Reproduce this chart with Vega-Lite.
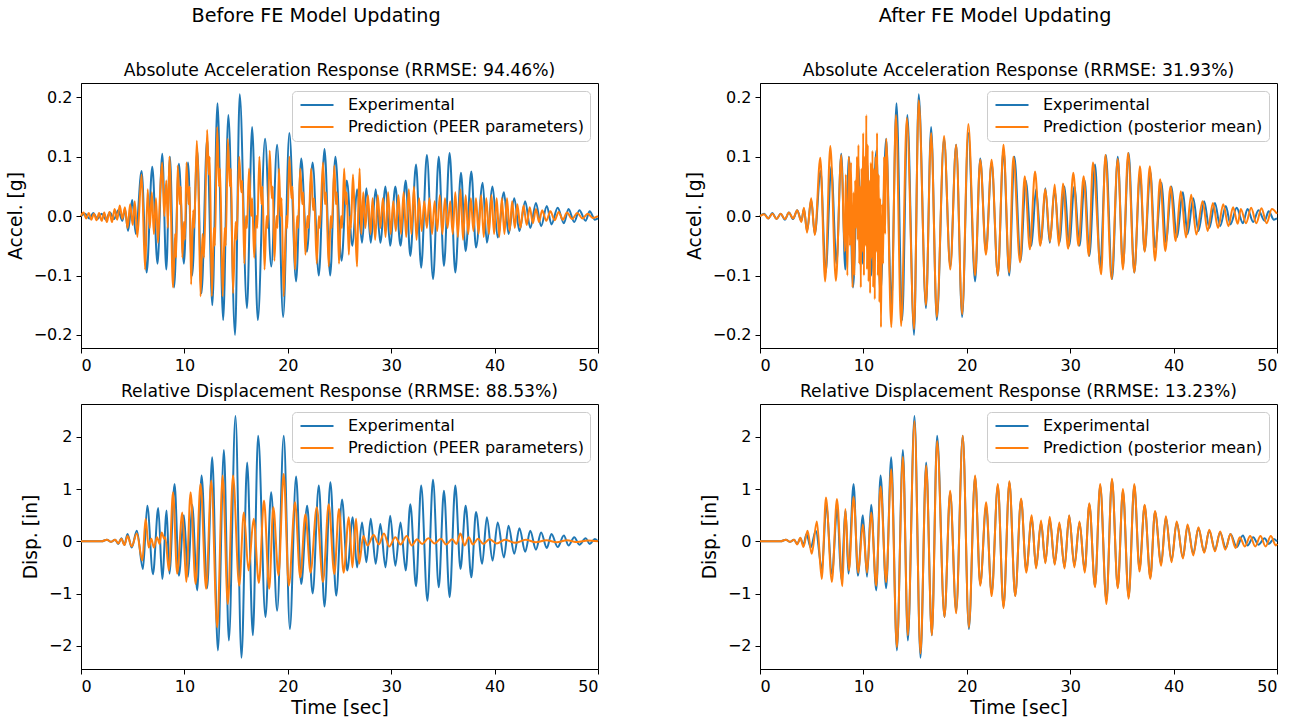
{
"$schema":"https://vega.github.io/schema/vega-lite/v6.json",
"background":"white",
"padding":{"left":5,"top":7,"right":0,"bottom":0},
"config":{
"font":"DejaVu Sans",
"view":{"stroke":"black","strokeWidth":1},
"axis":{"domainColor":"black","tickColor":"black","labelColor":"black","titleColor":"black","labelFontSize":16,"titleFontSize":18.7,"titleFontWeight":"normal","grid":false,"tickSize":5,"labelPadding":4,"labelFont":"DejaVu Sans","titleFont":"DejaVu Sans"},
"title":{"font":"DejaVu Sans","fontWeight":"normal","color":"black"},
"legend":{"orient":"top-right","offset":8,"symbolType":"M-1,0H5","symbolSize":121,"symbolStrokeWidth":2,"labelOffset":34,"labelFontSize":16,"labelFont":"DejaVu Sans","labelColor":"black","padding":6,"rowPadding":6,"fillColor":"rgba(255,255,255,0.8)","strokeColor":"#cccccc","cornerRadius":4,"labelLimit":400},
"line":{"strokeWidth":2,"interpolate":"monotone"}
},
"datasets":{
"accExp":[{"t":0,"v":0},{"t":0.4,"v":0.004},{"t":0.8,"v":-0.004},{"t":1.2,"v":0.005},{"t":1.6,"v":-0.005},{"t":2.0,"v":0.004},{"t":2.4,"v":-0.006},{"t":2.8,"v":0.006},{"t":3.2,"v":-0.005},{"t":3.6,"v":0.01},{"t":4.0,"v":-0.008},{"t":4.25,"v":0.012},{"t":4.55,"v":-0.025},{"t":4.95,"v":0.027},{"t":5.3,"v":-0.03},{"t":5.86,"v":0.076},{"t":6.35,"v":-0.095},{"t":6.89,"v":0.083},{"t":7.4,"v":-0.08},{"t":7.86,"v":0.105},{"t":8.25,"v":-0.09},{"t":8.6,"v":0.1},{"t":9.0,"v":-0.12},{"t":9.47,"v":0.088},{"t":9.95,"v":-0.08},{"t":10.35,"v":0.09},{"t":10.75,"v":-0.1},{"t":11.25,"v":0.11},{"t":11.65,"v":-0.13},{"t":12.2,"v":0.13},{"t":12.7,"v":-0.15},{"t":13.2,"v":0.19},{"t":13.75,"v":-0.175},{"t":14.25,"v":0.17},{"t":14.9,"v":-0.2},{"t":15.35,"v":0.205},{"t":16.05,"v":-0.155},{"t":16.55,"v":0.15},{"t":17.1,"v":-0.175},{"t":17.8,"v":0.13},{"t":18.4,"v":-0.085},{"t":18.97,"v":0.12},{"t":19.55,"v":-0.17},{"t":20.15,"v":0.14},{"t":20.8,"v":-0.11},{"t":21.3,"v":0.097},{"t":21.85,"v":-0.06},{"t":22.4,"v":0.09},{"t":23.0,"v":-0.1},{"t":23.55,"v":0.113},{"t":24.1,"v":-0.1},{"t":24.6,"v":0.1},{"t":25.2,"v":-0.075},{"t":25.7,"v":0.06},{"t":26.25,"v":-0.05},{"t":26.7,"v":0.045},{"t":27.18,"v":-0.045},{"t":27.6,"v":0.047},{"t":28.02,"v":-0.045},{"t":28.5,"v":0.045},{"t":28.95,"v":-0.045},{"t":29.45,"v":0.05},{"t":29.9,"v":-0.05},{"t":30.4,"v":0.05},{"t":30.9,"v":-0.05},{"t":31.4,"v":0.06},{"t":31.85,"v":-0.067},{"t":32.4,"v":0.087},{"t":32.9,"v":-0.087},{"t":33.45,"v":0.103},{"t":34.05,"v":-0.106},{"t":34.6,"v":0.1},{"t":35.1,"v":-0.084},{"t":35.65,"v":0.106},{"t":36.2,"v":-0.095},{"t":36.75,"v":0.073},{"t":37.2,"v":-0.059},{"t":37.75,"v":0.075},{"t":38.2,"v":-0.053},{"t":38.85,"v":0.056},{"t":39.25,"v":-0.045},{"t":39.8,"v":0.05},{"t":40.3,"v":-0.036},{"t":40.9,"v":0.04},{"t":41.35,"v":-0.03},{"t":41.9,"v":0.03},{"t":42.4,"v":-0.025},{"t":42.96,"v":0.025},{"t":43.45,"v":-0.02},{"t":44.0,"v":0.022},{"t":44.5,"v":-0.017},{"t":45.05,"v":0.017},{"t":45.5,"v":-0.014},{"t":46.1,"v":0.014},{"t":46.7,"v":-0.012},{"t":47.15,"v":0.012},{"t":47.7,"v":-0.01},{"t":48.2,"v":0.01},{"t":48.8,"v":-0.008},{"t":49.2,"v":0.008},{"t":49.7,"v":-0.006},{"t":50,"v":-0.004}],
"accPeer":[{"t":0,"v":0},{"t":0.25,"v":0.006},{"t":0.5,"v":-0.004},{"t":0.75,"v":0.005},{"t":1.0,"v":-0.006},{"t":1.25,"v":0.004},{"t":1.5,"v":-0.007},{"t":1.75,"v":0.005},{"t":2.0,"v":-0.008},{"t":2.25,"v":0.006},{"t":2.5,"v":-0.01},{"t":2.75,"v":0.007},{"t":3.0,"v":-0.01},{"t":3.25,"v":0.012},{"t":3.5,"v":-0.006},{"t":3.75,"v":0.018},{"t":4.0,"v":-0.005},{"t":4.25,"v":0.015},{"t":4.5,"v":-0.02},{"t":4.75,"v":0.02},{"t":5.0,"v":-0.015},{"t":5.2,"v":0.025},{"t":5.45,"v":-0.035},{"t":5.86,"v":0.07},{"t":6.2,"v":-0.09},{"t":6.45,"v":0.045},{"t":6.65,"v":-0.02},{"t":6.85,"v":0.04},{"t":7.05,"v":-0.03},{"t":7.25,"v":0.03},{"t":7.45,"v":-0.045},{"t":7.65,"v":0.04},{"t":7.85,"v":0.09},{"t":8.05,"v":0.0},{"t":8.25,"v":0.06},{"t":8.4,"v":-0.02},{"t":8.55,"v":0.1},{"t":8.9,"v":-0.12},{"t":9.1,"v":-0.03},{"t":9.2,"v":-0.07},{"t":9.35,"v":0.085},{"t":9.55,"v":0.02},{"t":9.65,"v":0.05},{"t":9.8,"v":-0.07},{"t":9.95,"v":-0.01},{"t":10.05,"v":-0.04},{"t":10.2,"v":0.09},{"t":10.4,"v":0.02},{"t":10.5,"v":0.05},{"t":10.65,"v":-0.115},{"t":10.85,"v":0.01},{"t":10.95,"v":-0.02},{"t":11.2,"v":0.127},{"t":11.35,"v":0.06},{"t":11.56,"v":-0.135},{"t":11.75,"v":-0.03},{"t":11.9,"v":-0.07},{"t":12.2,"v":0.145},{"t":12.35,"v":0.07},{"t":12.45,"v":0.1},{"t":12.65,"v":-0.135},{"t":12.85,"v":-0.02},{"t":12.95,"v":-0.05},{"t":13.17,"v":0.15},{"t":13.35,"v":0.05},{"t":13.45,"v":0.08},{"t":13.7,"v":-0.135},{"t":13.9,"v":-0.02},{"t":14.0,"v":-0.05},{"t":14.2,"v":0.13},{"t":14.4,"v":0.05},{"t":14.5,"v":0.08},{"t":14.7,"v":-0.13},{"t":14.95,"v":-0.01},{"t":15.05,"v":-0.04},{"t":15.3,"v":0.1},{"t":15.5,"v":0.04},{"t":15.6,"v":0.06},{"t":15.8,"v":-0.08},{"t":15.95,"v":0.0},{"t":16.05,"v":-0.02},{"t":16.25,"v":0.08},{"t":16.45,"v":0.0},{"t":16.55,"v":0.03},{"t":16.75,"v":-0.07},{"t":16.95,"v":0.0},{"t":17.05,"v":-0.02},{"t":17.25,"v":0.1},{"t":17.45,"v":0.02},{"t":17.55,"v":0.05},{"t":17.75,"v":-0.09},{"t":17.95,"v":0.0},{"t":18.05,"v":-0.02},{"t":18.25,"v":0.11},{"t":18.45,"v":0.03},{"t":18.55,"v":0.05},{"t":18.7,"v":-0.075},{"t":18.9,"v":0.0},{"t":19.0,"v":-0.02},{"t":19.15,"v":0.08},{"t":19.3,"v":0.0},{"t":19.4,"v":0.03},{"t":19.6,"v":-0.135},{"t":19.85,"v":0.0},{"t":19.95,"v":-0.02},{"t":20.15,"v":0.1},{"t":20.35,"v":0.03},{"t":20.45,"v":0.05},{"t":20.7,"v":-0.09},{"t":20.9,"v":0.0},{"t":21.0,"v":-0.02},{"t":21.2,"v":0.08},{"t":21.4,"v":0.02},{"t":21.5,"v":0.04},{"t":21.7,"v":-0.065},{"t":21.9,"v":0.0},{"t":22.0,"v":-0.02},{"t":22.25,"v":0.08},{"t":22.45,"v":0.01},{"t":22.55,"v":0.03},{"t":22.8,"v":-0.08},{"t":23.0,"v":0.0},{"t":23.1,"v":-0.02},{"t":23.4,"v":0.09},{"t":23.6,"v":0.02},{"t":23.7,"v":0.04},{"t":23.96,"v":-0.085},{"t":24.15,"v":0.0},{"t":24.25,"v":-0.02},{"t":24.5,"v":0.085},{"t":24.65,"v":0.02},{"t":24.75,"v":0.04},{"t":24.95,"v":-0.08},{"t":25.15,"v":0.0},{"t":25.25,"v":-0.02},{"t":25.45,"v":0.08},{"t":25.6,"v":0.02},{"t":25.7,"v":0.04},{"t":25.9,"v":-0.065},{"t":26.05,"v":0.0},{"t":26.1,"v":-0.02},{"t":26.3,"v":0.07},{"t":26.45,"v":0.01},{"t":26.55,"v":-0.03},{"t":26.7,"v":-0.085},{"t":26.8,"v":0.0},{"t":26.95,"v":0.08},{"t":27.1,"v":-0.03},{"t":27.3,"v":0.04},{"t":27.5,"v":-0.02},{"t":27.75,"v":0.035},{"t":28.0,"v":-0.03},{"t":28.2,"v":0.03},{"t":28.45,"v":-0.04},{"t":28.7,"v":0.035},{"t":28.95,"v":-0.02},{"t":29.2,"v":0.03},{"t":29.45,"v":-0.035},{"t":29.7,"v":0.04},{"t":29.95,"v":-0.03},{"t":30.2,"v":0.025},{"t":30.45,"v":-0.025},{"t":30.7,"v":0.035},{"t":30.95,"v":-0.03},{"t":31.2,"v":0.04},{"t":31.45,"v":-0.035},{"t":31.7,"v":0.045},{"t":31.95,"v":-0.03},{"t":32.2,"v":0.05},{"t":32.45,"v":-0.04},{"t":32.7,"v":0.03},{"t":32.95,"v":-0.025},{"t":33.2,"v":0.025},{"t":33.45,"v":-0.02},{"t":33.7,"v":0.03},{"t":33.95,"v":-0.03},{"t":34.2,"v":0.025},{"t":34.45,"v":-0.025},{"t":34.7,"v":0.035},{"t":34.95,"v":-0.03},{"t":35.2,"v":0.03},{"t":35.45,"v":-0.02},{"t":35.7,"v":0.025},{"t":35.95,"v":-0.03},{"t":36.2,"v":0.04},{"t":36.45,"v":-0.035},{"t":36.7,"v":0.045},{"t":36.95,"v":-0.04},{"t":37.2,"v":0.035},{"t":37.45,"v":-0.03},{"t":37.7,"v":0.03},{"t":37.95,"v":-0.025},{"t":38.2,"v":0.03},{"t":38.45,"v":-0.03},{"t":38.7,"v":0.035},{"t":38.95,"v":-0.035},{"t":39.2,"v":0.03},{"t":39.45,"v":-0.03},{"t":39.7,"v":0.035},{"t":39.95,"v":-0.03},{"t":40.2,"v":0.03},{"t":40.45,"v":-0.035},{"t":40.7,"v":0.03},{"t":40.95,"v":-0.03},{"t":41.2,"v":0.03},{"t":41.45,"v":-0.025},{"t":41.7,"v":0.025},{"t":41.95,"v":-0.02},{"t":42.2,"v":0.02},{"t":42.5,"v":-0.02},{"t":42.8,"v":0.018},{"t":43.1,"v":-0.015},{"t":43.4,"v":0.015},{"t":43.7,"v":-0.012},{"t":44.0,"v":0.012},{"t":44.3,"v":-0.01},{"t":44.6,"v":0.01},{"t":45,"v":-0.008},{"t":45.4,"v":0.008},{"t":45.8,"v":-0.007},{"t":46.2,"v":0.007},{"t":46.6,"v":-0.006},{"t":47,"v":0.006},{"t":47.5,"v":-0.005},{"t":48,"v":0.005},{"t":48.5,"v":-0.004},{"t":49,"v":0.004},{"t":49.5,"v":-0.003},{"t":50,"v":0}],
"accPost":[{"t":0,"v":0},{"t":0.4,"v":0.003},{"t":0.8,"v":-0.004},{"t":1.2,"v":0.004},{"t":1.6,"v":-0.005},{"t":2.0,"v":0.004},{"t":2.4,"v":-0.005},{"t":2.8,"v":0.006},{"t":3.2,"v":-0.004},{"t":3.6,"v":0.01},{"t":4.0,"v":-0.01},{"t":4.25,"v":0.014},{"t":4.55,"v":-0.028},{"t":4.95,"v":0.03},{"t":5.3,"v":-0.032},{"t":5.83,"v":0.098},{"t":6.3,"v":-0.11},{"t":6.8,"v":0.118},{"t":7.34,"v":-0.109},{"t":7.86,"v":0.103},{"t":8.2,"v":-0.06},{"t":8.3,"v":0.07},{"t":8.45,"v":-0.1},{"t":8.6,"v":0.1},{"t":8.7,"v":-0.05},{"t":8.8,"v":0.09},{"t":8.95,"v":-0.12},{"t":9.05,"v":0.04},{"t":9.12,"v":-0.1},{"t":9.2,"v":0.06},{"t":9.3,"v":-0.02},{"t":9.38,"v":0.1},{"t":9.45,"v":-0.04},{"t":9.52,"v":0.12},{"t":9.6,"v":-0.08},{"t":9.68,"v":0.05},{"t":9.75,"v":-0.12},{"t":9.82,"v":0.08},{"t":9.9,"v":-0.06},{"t":9.98,"v":0.14},{"t":10.05,"v":-0.1},{"t":10.12,"v":0.1},{"t":10.2,"v":-0.05},{"t":10.28,"v":0.17},{"t":10.35,"v":-0.09},{"t":10.42,"v":0.12},{"t":10.5,"v":-0.11},{"t":10.58,"v":0.06},{"t":10.65,"v":-0.13},{"t":10.72,"v":0.09},{"t":10.8,"v":-0.07},{"t":10.88,"v":0.11},{"t":10.95,"v":-0.12},{"t":11.02,"v":0.08},{"t":11.1,"v":-0.14},{"t":11.18,"v":0.1},{"t":11.25,"v":-0.06},{"t":11.32,"v":0.14},{"t":11.4,"v":-0.1},{"t":11.48,"v":0.07},{"t":11.55,"v":-0.145},{"t":11.62,"v":0.03},{"t":11.7,"v":-0.187},{"t":11.8,"v":0.02},{"t":11.9,"v":-0.08},{"t":12.0,"v":0.1},{"t":12.1,"v":-0.03},{"t":12.2,"v":0.13},{"t":12.7,"v":-0.187},{"t":13.15,"v":0.17},{"t":13.65,"v":-0.185},{"t":14.2,"v":0.165},{"t":14.9,"v":-0.19},{"t":15.35,"v":0.195},{"t":16.05,"v":-0.15},{"t":16.55,"v":0.14},{"t":17.1,"v":-0.17},{"t":17.8,"v":0.135},{"t":18.4,"v":-0.09},{"t":18.97,"v":0.12},{"t":19.55,"v":-0.165},{"t":20.15,"v":0.155},{"t":20.8,"v":-0.1},{"t":21.3,"v":0.095},{"t":21.85,"v":-0.065},{"t":22.4,"v":0.095},{"t":23.0,"v":-0.1},{"t":23.55,"v":0.12},{"t":24.1,"v":-0.095},{"t":24.5,"v":0.1},{"t":25.15,"v":-0.078},{"t":25.6,"v":0.067},{"t":26.1,"v":-0.056},{"t":26.6,"v":0.075},{"t":27.1,"v":-0.05},{"t":27.6,"v":0.045},{"t":28.05,"v":-0.043},{"t":28.5,"v":0.053},{"t":28.9,"v":-0.05},{"t":29.3,"v":0.055},{"t":29.8,"v":-0.055},{"t":30.3,"v":0.073},{"t":30.8,"v":-0.05},{"t":31.3,"v":0.067},{"t":31.8,"v":-0.067},{"t":32.2,"v":0.09},{"t":33.0,"v":-0.098},{"t":33.4,"v":0.103},{"t":34.0,"v":-0.106},{"t":34.6,"v":0.096},{"t":35.1,"v":-0.09},{"t":35.6,"v":0.106},{"t":36.2,"v":-0.095},{"t":36.75,"v":0.084},{"t":37.2,"v":-0.06},{"t":37.7,"v":0.084},{"t":38.2,"v":-0.075},{"t":38.7,"v":0.062},{"t":39.2,"v":-0.059},{"t":39.7,"v":0.05},{"t":40.2,"v":-0.042},{"t":40.7,"v":0.042},{"t":41.2,"v":-0.036},{"t":41.7,"v":0.036},{"t":42.2,"v":-0.031},{"t":42.8,"v":0.025},{"t":43.3,"v":-0.025},{"t":43.8,"v":0.022},{"t":44.3,"v":-0.02},{"t":44.8,"v":0.02},{"t":45.3,"v":-0.017},{"t":45.75,"v":0.015},{"t":46.2,"v":-0.013},{"t":46.5,"v":0.012},{"t":47.0,"v":-0.012},{"t":47.5,"v":0.014},{"t":48.0,"v":-0.012},{"t":48.5,"v":0.013},{"t":49.0,"v":-0.012},{"t":49.5,"v":0.012},{"t":50,"v":0.004}],
"dispExp":[{"t":0,"v":0},{"t":2.0,"v":0},{"t":2.5,"v":0.03},{"t":2.9,"v":-0.01},{"t":3.3,"v":0.03},{"t":3.6,"v":-0.05},{"t":3.9,"v":0.06},{"t":4.2,"v":-0.07},{"t":4.5,"v":0.14},{"t":4.9,"v":-0.12},{"t":5.4,"v":0.2},{"t":5.99,"v":-0.53},{"t":6.41,"v":0.68},{"t":6.96,"v":-0.63},{"t":7.47,"v":0.64},{"t":7.86,"v":-0.72},{"t":8.28,"v":0.59},{"t":8.55,"v":-0.62},{"t":9.05,"v":1.1},{"t":9.47,"v":-0.66},{"t":9.95,"v":0.5},{"t":10.35,"v":-0.68},{"t":10.75,"v":0.7},{"t":11.24,"v":-0.94},{"t":11.66,"v":1.26},{"t":12.2,"v":-0.9},{"t":12.69,"v":1.61},{"t":13.24,"v":-2.09},{"t":13.82,"v":1.75},{"t":14.3,"v":-1.9},{"t":14.94,"v":2.4},{"t":15.52,"v":-2.23},{"t":16.07,"v":1.51},{"t":16.62,"v":-1.8},{"t":17.13,"v":2.02},{"t":17.84,"v":-1.45},{"t":18.39,"v":0.94},{"t":18.97,"v":-1.33},{"t":19.61,"v":2.02},{"t":20.2,"v":-1.68},{"t":20.8,"v":1.24},{"t":21.3,"v":-0.82},{"t":21.87,"v":0.68},{"t":22.4,"v":-1.0},{"t":23.0,"v":1.07},{"t":23.55,"v":-1.25},{"t":24.12,"v":1.13},{"t":24.68,"v":-1.04},{"t":25.25,"v":0.8},{"t":25.75,"v":-0.56},{"t":26.28,"v":0.46},{"t":26.7,"v":-0.5},{"t":27.18,"v":0.36},{"t":27.6,"v":-0.4},{"t":28.02,"v":0.43},{"t":28.5,"v":-0.43},{"t":28.95,"v":0.33},{"t":29.45,"v":-0.5},{"t":29.9,"v":0.49},{"t":30.4,"v":-0.47},{"t":30.9,"v":0.36},{"t":31.4,"v":-0.56},{"t":31.85,"v":0.71},{"t":32.4,"v":-0.86},{"t":32.9,"v":1.07},{"t":33.5,"v":-1.14},{"t":34.04,"v":1.18},{"t":34.6,"v":-0.88},{"t":35.1,"v":0.97},{"t":35.65,"v":-1.07},{"t":36.2,"v":1.07},{"t":36.7,"v":-0.53},{"t":37.2,"v":0.68},{"t":37.75,"v":-0.69},{"t":38.2,"v":0.56},{"t":38.8,"v":-0.43},{"t":39.25,"v":0.46},{"t":39.8,"v":-0.37},{"t":40.3,"v":0.36},{"t":40.9,"v":-0.31},{"t":41.35,"v":0.3},{"t":41.9,"v":-0.24},{"t":42.4,"v":0.25},{"t":42.96,"v":-0.2},{"t":43.45,"v":0.2},{"t":44.0,"v":-0.16},{"t":44.5,"v":0.17},{"t":45.05,"v":-0.13},{"t":45.5,"v":0.14},{"t":46.1,"v":-0.11},{"t":46.7,"v":0.11},{"t":47.15,"v":-0.08},{"t":47.7,"v":0.08},{"t":48.2,"v":-0.065},{"t":48.8,"v":0.06},{"t":49.2,"v":-0.05},{"t":49.7,"v":0.045},{"t":50,"v":0}],
"dispPeer":[{"t":0,"v":0},{"t":2.0,"v":0},{"t":2.5,"v":0.03},{"t":2.9,"v":-0.01},{"t":3.3,"v":0.03},{"t":3.6,"v":-0.04},{"t":3.9,"v":0.05},{"t":4.2,"v":-0.07},{"t":4.5,"v":0.1},{"t":4.9,"v":-0.1},{"t":5.4,"v":0.15},{"t":5.93,"v":-0.37},{"t":6.25,"v":0.43},{"t":6.55,"v":-0.12},{"t":6.8,"v":0.05},{"t":7.05,"v":-0.12},{"t":7.35,"v":0.08},{"t":7.6,"v":-0.05},{"t":7.8,"v":0.17},{"t":8.05,"v":0.05},{"t":8.15,"v":0.08},{"t":8.5,"v":-0.56},{"t":8.9,"v":0.94},{"t":9.3,"v":-0.62},{"t":9.8,"v":0.55},{"t":10.18,"v":-0.78},{"t":10.6,"v":0.94},{"t":11.08,"v":-0.82},{"t":11.56,"v":1.1},{"t":12.1,"v":-0.91},{"t":12.6,"v":1.16},{"t":13.17,"v":-1.65},{"t":13.7,"v":1.26},{"t":14.2,"v":-1.2},{"t":14.7,"v":1.26},{"t":15.3,"v":-0.85},{"t":15.75,"v":0.55},{"t":16.2,"v":-0.56},{"t":16.7,"v":0.43},{"t":17.2,"v":-0.8},{"t":17.7,"v":0.78},{"t":18.2,"v":-0.91},{"t":18.6,"v":0.65},{"t":19.1,"v":-0.65},{"t":19.6,"v":1.29},{"t":20.1,"v":-0.85},{"t":20.7,"v":0.75},{"t":21.2,"v":-0.69},{"t":21.7,"v":0.52},{"t":22.2,"v":-0.6},{"t":22.8,"v":0.65},{"t":23.4,"v":-0.78},{"t":23.96,"v":0.71},{"t":24.5,"v":-0.63},{"t":24.95,"v":0.62},{"t":25.4,"v":-0.6},{"t":25.9,"v":0.46},{"t":26.25,"v":-0.5},{"t":26.6,"v":0.43},{"t":26.9,"v":-0.43},{"t":27.3,"v":0.1},{"t":27.7,"v":-0.08},{"t":28.3,"v":0.12},{"t":28.8,"v":-0.06},{"t":29.3,"v":0.15},{"t":29.8,"v":-0.1},{"t":30.4,"v":0.08},{"t":30.9,"v":-0.06},{"t":31.5,"v":0.1},{"t":32.0,"v":-0.08},{"t":32.5,"v":0.04},{"t":33.0,"v":-0.05},{"t":33.6,"v":0.06},{"t":34.2,"v":-0.04},{"t":34.8,"v":0.05},{"t":35.3,"v":-0.06},{"t":35.9,"v":0.04},{"t":36.3,"v":-0.05},{"t":36.7,"v":0.15},{"t":37.1,"v":-0.08},{"t":37.5,"v":0.08},{"t":37.9,"v":-0.06},{"t":38.4,"v":0.05},{"t":38.9,"v":-0.05},{"t":39.5,"v":0.04},{"t":40.2,"v":-0.04},{"t":41,"v":0.03},{"t":42,"v":-0.03},{"t":43,"v":0.03},{"t":44,"v":-0.02},{"t":45,"v":0.02},{"t":46,"v":-0.02},{"t":47,"v":0.02},{"t":48,"v":-0.015},{"t":49,"v":0.015},{"t":50,"v":0}],
"dispPost":[{"t":0,"v":0},{"t":2.0,"v":0},{"t":2.5,"v":0.03},{"t":2.9,"v":-0.01},{"t":3.3,"v":0.03},{"t":3.6,"v":-0.06},{"t":3.9,"v":0.07},{"t":4.2,"v":-0.11},{"t":4.6,"v":0.2},{"t":5.0,"v":-0.24},{"t":5.5,"v":0.38},{"t":5.97,"v":-0.72},{"t":6.38,"v":0.84},{"t":6.95,"v":-0.78},{"t":7.44,"v":0.81},{"t":7.97,"v":-0.86},{"t":8.25,"v":0.62},{"t":8.6,"v":-0.56},{"t":9.05,"v":0.85},{"t":9.5,"v":-0.6},{"t":9.95,"v":0.32},{"t":10.35,"v":-0.6},{"t":10.75,"v":0.55},{"t":11.24,"v":-0.85},{"t":11.66,"v":1.05},{"t":12.2,"v":-0.78},{"t":12.69,"v":1.38},{"t":13.24,"v":-2.03},{"t":13.82,"v":1.62},{"t":14.3,"v":-1.8},{"t":14.94,"v":2.3},{"t":15.52,"v":-2.15},{"t":16.07,"v":1.45},{"t":16.62,"v":-1.8},{"t":17.13,"v":1.92},{"t":17.84,"v":-1.45},{"t":18.39,"v":0.97},{"t":18.97,"v":-1.38},{"t":19.61,"v":2.02},{"t":20.2,"v":-1.65},{"t":20.8,"v":1.26},{"t":21.3,"v":-0.85},{"t":21.87,"v":0.75},{"t":22.4,"v":-1.05},{"t":23.0,"v":1.1},{"t":23.55,"v":-1.28},{"t":24.12,"v":1.15},{"t":24.68,"v":-1.05},{"t":25.25,"v":0.82},{"t":25.75,"v":-0.6},{"t":26.28,"v":0.5},{"t":26.7,"v":-0.52},{"t":27.18,"v":0.4},{"t":27.6,"v":-0.42},{"t":28.02,"v":0.47},{"t":28.5,"v":-0.45},{"t":28.95,"v":0.36},{"t":29.45,"v":-0.52},{"t":29.9,"v":0.5},{"t":30.4,"v":-0.5},{"t":30.9,"v":0.38},{"t":31.4,"v":-0.6},{"t":31.85,"v":0.73},{"t":32.4,"v":-0.88},{"t":32.9,"v":1.1},{"t":33.5,"v":-1.2},{"t":34.04,"v":1.2},{"t":34.6,"v":-0.9},{"t":35.1,"v":1.0},{"t":35.65,"v":-1.1},{"t":36.2,"v":1.1},{"t":36.7,"v":-0.58},{"t":37.2,"v":0.7},{"t":37.75,"v":-0.72},{"t":38.2,"v":0.58},{"t":38.8,"v":-0.47},{"t":39.25,"v":0.48},{"t":39.8,"v":-0.4},{"t":40.3,"v":0.38},{"t":40.9,"v":-0.33},{"t":41.35,"v":0.32},{"t":41.9,"v":-0.27},{"t":42.4,"v":0.27},{"t":42.96,"v":-0.22},{"t":43.45,"v":0.22},{"t":44.0,"v":-0.19},{"t":44.5,"v":0.19},{"t":45.0,"v":-0.16},{"t":45.5,"v":0.14},{"t":46.0,"v":-0.13},{"t":46.4,"v":0.08},{"t":46.9,"v":-0.1},{"t":47.4,"v":0.1},{"t":47.9,"v":-0.1},{"t":48.4,"v":0.1},{"t":48.9,"v":-0.1},{"t":49.4,"v":0.1},{"t":49.9,"v":-0.08},{"t":50,"v":-0.05}]
},
"spacing":81,
"resolve":{"scale":{"color":"independent","x":"independent","y":"independent"},"legend":{"color":"independent"}},
"hconcat":[
{"title":{"text":"Before FE Model Updating","fontSize":19.2,"anchor":"middle","offset":35,"dx":12},
"spacing":8,
"resolve":{"scale":{"color":"independent","x":"independent","y":"independent"},"legend":{"color":"independent"}},
"vconcat":[
{"width":517,"height":265,"title":{"text":"Absolute Acceleration Response (RRMSE: 94.46%)","fontSize":17.2,"offset":4},
"layer":[
{"data":{"name":"accExp"},"mark":"line","encoding":{"x":{"field":"t","type":"quantitative","scale":{"domain":[0,50],"nice":false,"zero":false},"axis":{"values":[0,10,20,30,40,50],"title":null}},"y":{"field":"v","type":"quantitative","scale":{"domain":[-0.222,0.224],"nice":false,"zero":false},"axis":{"values":[-0.2,-0.1,0,0.1,0.2],"format":".1f","title":"Accel. [g]","titlePadding":8}},"color":{"datum":"Experimental","type":"nominal","scale":{"domain":["Experimental","Prediction (PEER parameters)"],"range":["#1f77b4","#ff7f0e"]},"legend":{"title":null}}}},
{"data":{"name":"accPeer"},"mark":"line","encoding":{"x":{"field":"t","type":"quantitative"},"y":{"field":"v","type":"quantitative"},"color":{"datum":"Prediction (PEER parameters)","type":"nominal"}}}
]},
{"width":517,"height":265,"title":{"text":"Relative Displacement Response (RRMSE: 88.53%)","fontSize":17.2,"offset":4},
"layer":[
{"data":{"name":"dispExp"},"mark":"line","encoding":{"x":{"field":"t","type":"quantitative","scale":{"domain":[0,50],"nice":false,"zero":false},"axis":{"values":[0,10,20,30,40,50],"title":"Time [sec]"}},"y":{"field":"v","type":"quantitative","scale":{"domain":[-2.446,2.63],"nice":false,"zero":false},"axis":{"values":[-2,-1,0,1,2],"format":"d","title":"Disp. [in]","titlePadding":8}},"color":{"datum":"Experimental","type":"nominal","scale":{"domain":["Experimental","Prediction (PEER parameters)"],"range":["#1f77b4","#ff7f0e"]},"legend":{"title":null}}}},
{"data":{"name":"dispPeer"},"mark":"line","encoding":{"x":{"field":"t","type":"quantitative"},"y":{"field":"v","type":"quantitative"},"color":{"datum":"Prediction (PEER parameters)","type":"nominal"}}}
]}
]},
{"title":{"text":"After FE Model Updating","fontSize":19.2,"anchor":"middle","offset":35,"dx":12},
"spacing":8,
"resolve":{"scale":{"color":"independent","x":"independent","y":"independent"},"legend":{"color":"independent"}},
"vconcat":[
{"width":517,"height":265,"title":{"text":"Absolute Acceleration Response (RRMSE: 31.93%)","fontSize":17.2,"offset":4},
"layer":[
{"data":{"name":"accExp"},"mark":"line","encoding":{"x":{"field":"t","type":"quantitative","scale":{"domain":[0,50],"nice":false,"zero":false},"axis":{"values":[0,10,20,30,40,50],"title":null}},"y":{"field":"v","type":"quantitative","scale":{"domain":[-0.222,0.224],"nice":false,"zero":false},"axis":{"values":[-0.2,-0.1,0,0.1,0.2],"format":".1f","title":"Accel. [g]","titlePadding":8}},"color":{"datum":"Experimental","type":"nominal","scale":{"domain":["Experimental","Prediction (posterior mean)"],"range":["#1f77b4","#ff7f0e"]},"legend":{"title":null}}}},
{"data":{"name":"accPost"},"mark":"line","encoding":{"x":{"field":"t","type":"quantitative"},"y":{"field":"v","type":"quantitative"},"color":{"datum":"Prediction (posterior mean)","type":"nominal"}}}
]},
{"width":517,"height":265,"title":{"text":"Relative Displacement Response (RRMSE: 13.23%)","fontSize":17.2,"offset":4},
"layer":[
{"data":{"name":"dispExp"},"mark":"line","encoding":{"x":{"field":"t","type":"quantitative","scale":{"domain":[0,50],"nice":false,"zero":false},"axis":{"values":[0,10,20,30,40,50],"title":"Time [sec]"}},"y":{"field":"v","type":"quantitative","scale":{"domain":[-2.446,2.63],"nice":false,"zero":false},"axis":{"values":[-2,-1,0,1,2],"format":"d","title":"Disp. [in]","titlePadding":8}},"color":{"datum":"Experimental","type":"nominal","scale":{"domain":["Experimental","Prediction (posterior mean)"],"range":["#1f77b4","#ff7f0e"]},"legend":{"title":null}}}},
{"data":{"name":"dispPost"},"mark":"line","encoding":{"x":{"field":"t","type":"quantitative"},"y":{"field":"v","type":"quantitative"},"color":{"datum":"Prediction (posterior mean)","type":"nominal"}}}
]}
]}
]
}
